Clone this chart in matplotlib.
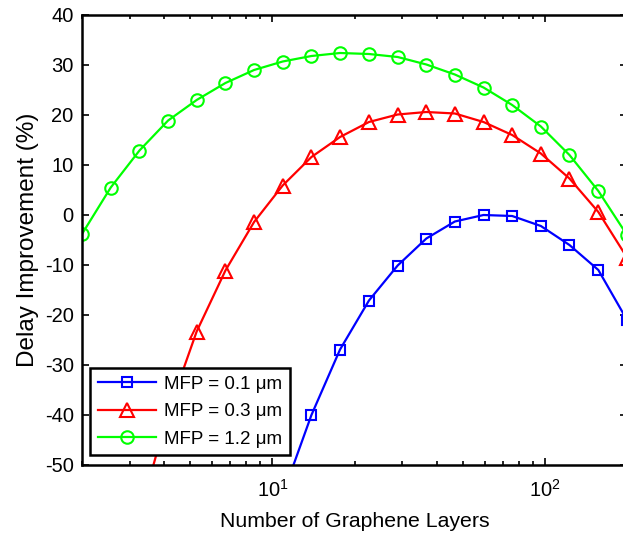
import matplotlib
matplotlib.use("Agg")
import matplotlib.pyplot as plt
from matplotlib.ticker import LogLocator, NullFormatter

plt.rcParams['font.family'] = ['Liberation Sans', 'DejaVu Sans']
plt.rcParams['mathtext.fontset'] = 'custom'
plt.rcParams['mathtext.rm'] = 'Liberation Sans'
plt.rcParams['mathtext.it'] = 'Liberation Sans:italic'
plt.rcParams['axes.unicode_minus'] = False

layers = [2.0, 2.55, 3.25, 4.14, 5.27, 6.72, 8.56, 10.9, 13.9, 17.7,
          22.6, 28.8, 36.7, 46.7, 59.5, 75.8, 96.6, 123, 157, 200]

# values from layers[7] onward
mfp_01 = [-56, -40, -26.9, -17.1, -10.1, -4.7, -1.3, 0, -0.2, -2.2, -6, -11, -21]
# values from layers[2] onward
mfp_03 = [-60, -39.5, -23.3, -11.1, -1.4, 5.9, 11.6, 15.6, 18.6, 20.1, 20.6,
          20.3, 18.6, 16.0, 12.3, 7.3, 0.6, -8.5]
mfp_12 = [-3.8, 5.5, 12.9, 18.9, 23.0, 26.4, 29.0, 30.7, 31.8, 32.4, 32.2,
          31.6, 30.1, 28.1, 25.5, 22.0, 17.7, 12.0, 4.8, -4.0]

labels = ['MFP = 0.1 μm', 'MFP = 0.3 μm', 'MFP = 1.2 μm']

fig = plt.figure(figsize=(6.23, 5.37), dpi=100)
ax = fig.add_axes([82/623, 72/537, 545/623, 450/537])

ax.plot(layers[7:], mfp_01, color=(0, 0, 1), lw=1.6, marker='s', ms=7.5,
        mfc='none', mew=1.5, label=labels[0])
ax.plot(layers[2:], mfp_03, color=(1, 0, 0), lw=1.6, marker='^', ms=9.5,
        mfc='none', mew=1.5, label=labels[1])
ax.plot(layers, mfp_12, color=(0, 1, 0), lw=1.6, marker='o', ms=9,
        mfc='none', mew=1.5, label=labels[2])

ax.set_xscale('log')
ax.set_xlim(2, 200)
ax.set_ylim(-50, 40)
ax.set_yticks(range(-50, 41, 10))
ax.xaxis.set_major_locator(LogLocator(base=10, numticks=10))
ax.xaxis.set_minor_locator(LogLocator(base=10, subs=range(2, 10), numticks=10))
ax.xaxis.set_minor_formatter(NullFormatter())

ax.tick_params(which='both', direction='in', top=True, right=True,
               labelsize=14.5, width=1.2, colors='black')
ax.tick_params(which='major', length=5)
ax.tick_params(which='minor', length=3)
ax.tick_params(axis='y', which='major', pad=6)
ax.tick_params(axis='x', which='major', pad=10)
for s in ax.spines.values():
    s.set_linewidth(1.8)

ax.set_xlabel('Number of Graphene Layers', fontsize=15.3, labelpad=8)
ax.set_ylabel('Delay Improvement (%)', fontsize=17.5, labelpad=4)

leg = ax.legend(loc='lower left', bbox_to_anchor=(8/545, 10/450), fontsize=13.5,
                handlelength=3.1, labelspacing=0.54, borderaxespad=0,
                fancybox=False, framealpha=1, edgecolor='black',
                borderpad=0.4, handletextpad=0.45)
leg.get_frame().set_linewidth(1.8)

fig.savefig('out.png', dpi=100)
